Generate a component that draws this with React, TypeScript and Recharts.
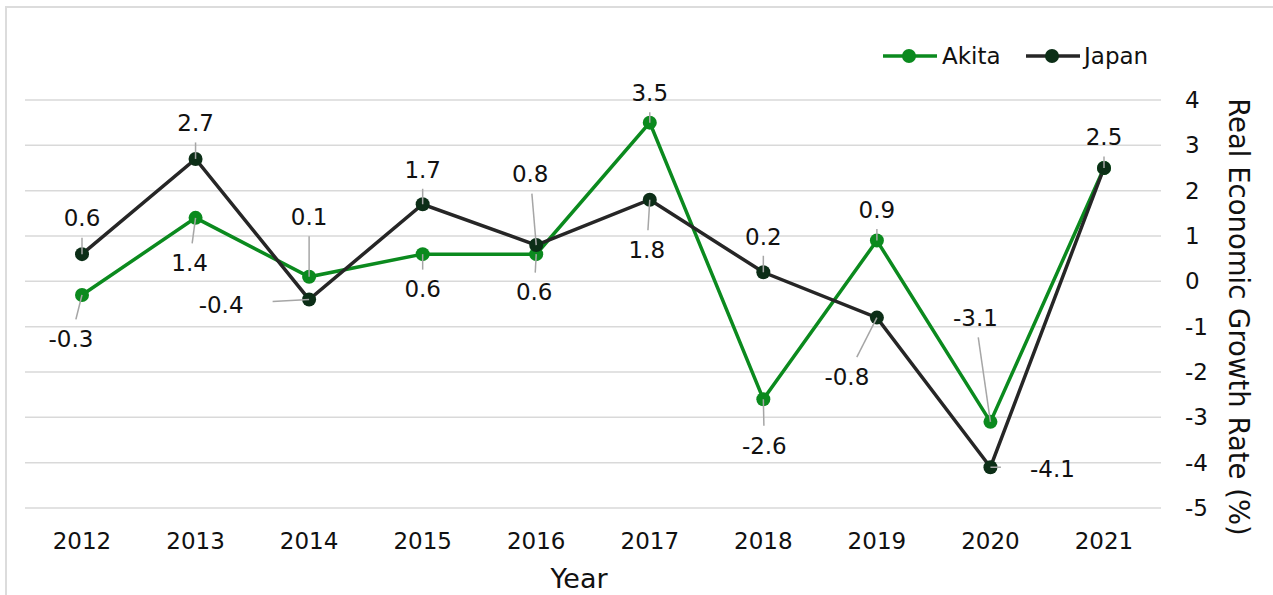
import React from 'react';
import { LineChart, Line, XAxis, YAxis, CartesianGrid, Legend, LabelList } from 'recharts';

const years = ['2012', '2013', '2014', '2015', '2016', '2017', '2018', '2019', '2020', '2021'];
const akitaValues = [-0.3, 1.4, 0.1, 0.6, 0.6, 3.5, -2.6, 0.9, -3.1, 2.5];
const japanValues = [0.6, 2.7, -0.4, 1.7, 0.8, 1.8, 0.2, -0.8, -4.1, 2.5];
const yTicks = [-5, -4, -3, -2, -1, 0, 1, 2, 3, 4];

// label placement offsets (px) relative to each point; null = label hidden
const akitaLabelOffsets: (number[] | null)[] = [
  [-11, 44], [-6, 45], [0, -60], [0, 35], [-2, 38], [0, -30], [1, 46], [0, -31], [-15, -104], null,
];
const japanLabelOffsets: (number[] | null)[] = [
  [0, -36], [0, -36], [-88, 5], [0, -35], [-6, -71], [-3, 50], [0, -36], [-30, 59], [62, 1], [0, -31],
];

const AKITA_COLOR = '#0b8a1e';
const JAPAN_LINE = '#262626';
const JAPAN_DOT = '#0c2e17';
const FONT = '"DejaVu Sans", Verdana, sans-serif';
const LABEL_SIZE = 23;

const data = years.map((year, i) => ({ year, Akita: akitaValues[i], Japan: japanValues[i] }));

function makeLabel(offsets: (number[] | null)[]) {
  return (props: any) => {
    const vb = props.viewBox || {};
    const px = props.x ?? vb.x;
    const py = props.y ?? vb.y;
    const index = props.index;
    const off = offsets[index];
    if (!off || px == null || py == null) return null;
    const text = String(props.value);
    const lx = px + off[0];
    const ly = py + off[1];
    const tw = text.length * 0.62 * LABEL_SIZE;
    const hw = tw / 2 + 23;
    const hh = 8.5 + 11;
    const dx = px - lx;
    const dy = py - ly;
    let t = Infinity;
    if (Math.abs(dx) > 0.001) t = Math.min(t, hw / Math.abs(dx));
    if (Math.abs(dy) > 0.001) t = Math.min(t, hh / Math.abs(dy));
    let leader = null;
    if (t < 1) {
      const sx = lx + dx * t;
      const sy = ly + dy * t;
      const len = Math.hypot(px - sx, py - sy);
      if (len > 3) {
        leader = <line x1={sx} y1={sy} x2={px} y2={py} stroke="#a6a6a6" strokeWidth={1.5} />;
      }
    }
    return (
      <g>
        {leader}
        <text x={lx} y={ly + 8.3} textAnchor="middle" fontSize={LABEL_SIZE} fontFamily={FONT} fill="#111">
          {text}
        </text>
      </g>
    );
  };
}

const renderLegend = () => (
  <svg width={300} height={30}>
    <line x1={13} y1={15} x2={67} y2={15} stroke={AKITA_COLOR} strokeWidth={3.5} />
    <circle cx={39} cy={15} r={7} fill={AKITA_COLOR} />
    <text x={72} y={23} fontSize={LABEL_SIZE} fontFamily={FONT} fill="#111">Akita</text>
    <line x1={156} y1={15} x2={210} y2={15} stroke={JAPAN_LINE} strokeWidth={3.5} />
    <circle cx={182} cy={15} r={7} fill={JAPAN_DOT} />
    <text x={214} y={23} fontSize={LABEL_SIZE} fontFamily={FONT} fill="#111">Japan</text>
  </svg>
);

const YTitle = () => {
  const x = 1239;
  const y = 317;
  return (
    <text
      x={x}
      y={y}
      transform={`rotate(90, ${x}, ${y})`}
      textAnchor="middle"
      dominantBaseline="central"
      fontSize={27.5}
      fontFamily={FONT}
      fill="#111"
    >
      Real Economic Growth Rate (%)
    </text>
  );
};

const XTitle = () => (
  <text x={579} y={588} textAnchor="middle" fontSize={27} fontFamily={FONT} fill="#111">
    Year
  </text>
);

export default function App() {
  return (
    <div style={{ position: 'absolute', left: 0, top: 0, width: 1273, height: 595, overflow: 'hidden', background: '#fff' }}>
      <div
        style={{
          position: 'absolute',
          left: 5,
          top: 6,
          width: 1400,
          height: 700,
          border: '2px solid #dcdcdc',
          boxSizing: 'border-box',
        }}
      />
      <div style={{ position: 'absolute', left: 0, top: 0 }}>
        <LineChart width={1273} height={595} data={data} margin={{ top: 100, right: 0, bottom: 0, left: 25 }}>
          <CartesianGrid horizontal vertical={false} stroke="#d9d9d9" strokeWidth={1.5} />
          <XAxis
            dataKey="year"
            height={87}
            padding={{ left: 57, right: 57 }}
            axisLine={false}
            tickLine={false}
            tickSize={0}
            tickMargin={25}
            interval={0}
            tick={{ fontSize: 23, fontFamily: FONT, fill: '#111' }}
            label={<XTitle />}
          />
          <YAxis
            orientation="right"
            width={112}
            domain={[-5, 4]}
            ticks={yTicks}
            interval={0}
            axisLine={false}
            tickLine={false}
            tickSize={0}
            tickMargin={24}
            tick={{ fontSize: 23, fontFamily: FONT, fill: '#111', textAnchor: 'start' }}
            label={<YTitle />}
          />
          <Legend
            layout="horizontal"
            verticalAlign="middle"
            align="center"
            content={renderLegend}
            wrapperStyle={{ position: 'absolute', left: 870, top: 41, width: 300, height: 30 }}
          />
          <Line
            dataKey="Akita"
            stroke={AKITA_COLOR}
            strokeWidth={3.5}
            dot={{ r: 7, fill: AKITA_COLOR, stroke: AKITA_COLOR, strokeWidth: 0 }}
            isAnimationActive={false}
          >
            <LabelList dataKey="Akita" content={makeLabel(akitaLabelOffsets)} />
          </Line>
          <Line
            dataKey="Japan"
            stroke={JAPAN_LINE}
            strokeWidth={3.5}
            dot={{ r: 7, fill: JAPAN_DOT, stroke: JAPAN_DOT, strokeWidth: 0 }}
            isAnimationActive={false}
          >
            <LabelList dataKey="Japan" content={makeLabel(japanLabelOffsets)} />
          </Line>
        </LineChart>
      </div>
    </div>
  );
}
